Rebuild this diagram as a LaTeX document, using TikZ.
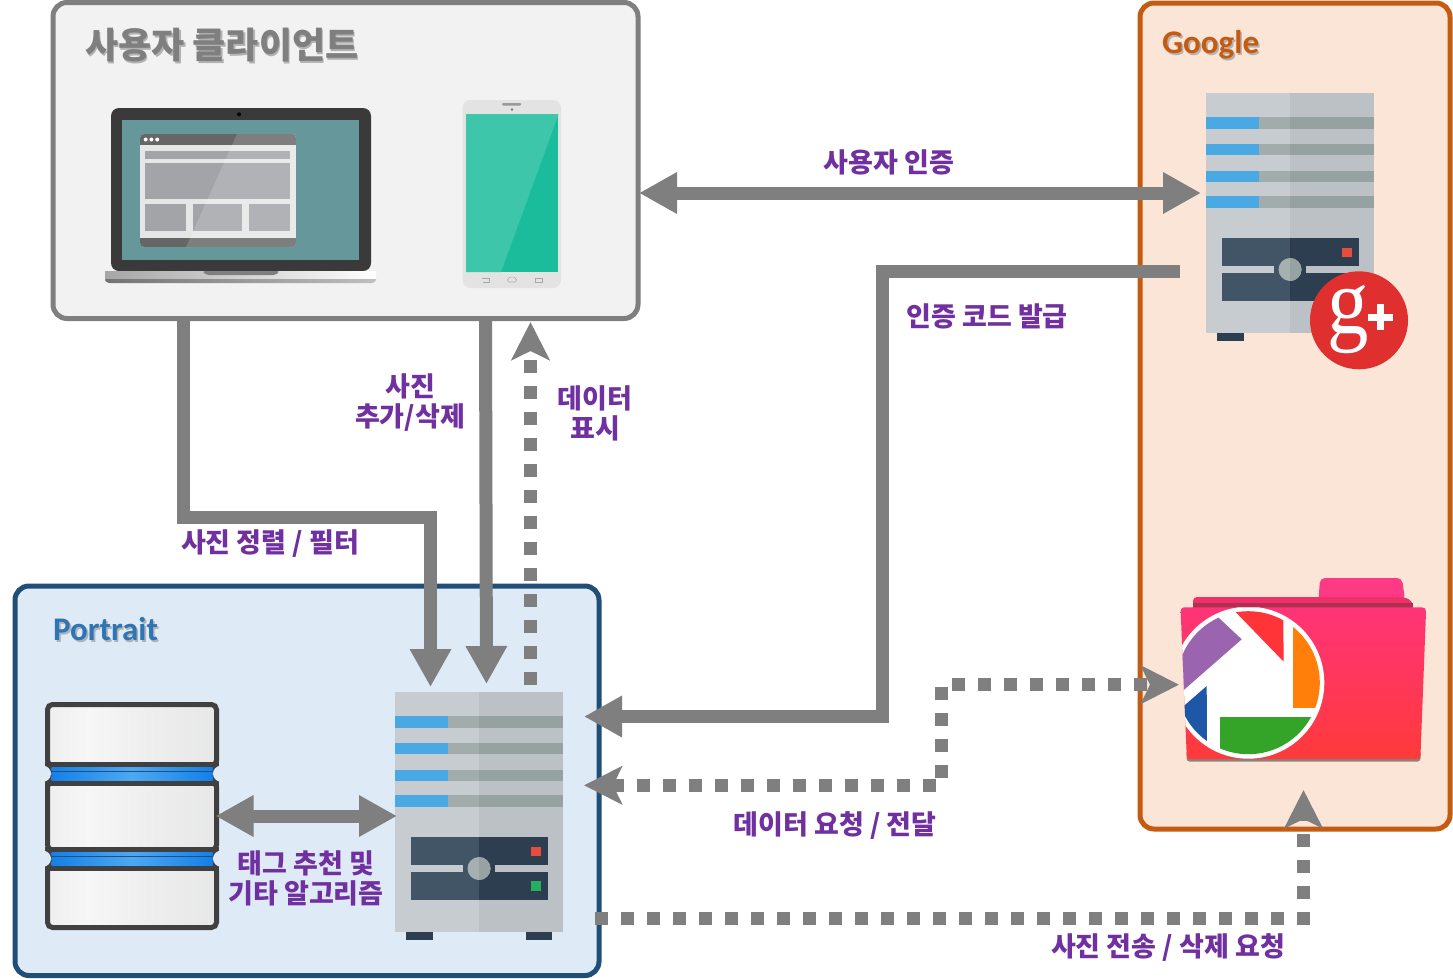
\documentclass[tikz,border=0pt]{standalone}
\usepackage{fontspec}
\usepackage{graphicx}
\usetikzlibrary{arrows.meta}
\newfontfamily\krfont{Noto Sans CJK KR}
\newfontfamily\enfont{Carlito}
\newfontfamily\gserif{Liberation Serif}
\definecolor{flow}{HTML}{7F7F7F}
\definecolor{lab}{HTML}{7030A0}
\definecolor{srvL}{HTML}{C7CCD0}
\definecolor{srvR}{HTML}{BCC1C5}
\definecolor{panL}{HTML}{425566}
\definecolor{panR}{HTML}{2C3E50}
\definecolor{dbA}{HTML}{DEDFDF}
\definecolor{dbB}{HTML}{F6F6F6}
\definecolor{dbC}{HTML}{EEEEEE}
\definecolor{bandA}{HTML}{1580E8}
\definecolor{bandB}{HTML}{4DA8F2}
\definecolor{portraitfill}{HTML}{DEEBF7}
\pgfdeclarehorizontalshading{dbgrad}{100bp}{color(0bp)=(dbA);color(37bp)=(dbB);color(55bp)=(dbC);color(100bp)=(dbA)}
\newcommand{\shadowed}[2]{\rlap{\kern1.6pt\raisebox{-1.6pt}{\color{#1}#2}}#2}
\tikzset{
  x=1pt,y=-1pt,
  group/.style={draw,line width=5pt,rounded corners=14pt,inner sep=0pt},
  anchorbox/.style={inner sep=0pt,outer sep=0pt},
  lbl/.style={text=lab,inner sep=0pt,align=center,font=\krfont\bfseries\fontsize{27}{30}\selectfont},
  solidflow/.style={draw=flow,line width=13pt},
  dotflow/.style={draw=flow,line width=13pt,dash pattern=on 13pt off 13pt},
  thead/.tip={Triangle[length=38pt,width=39pt]},
  shead/.tip={Stealth[length=38pt,width=38pt,inset=9pt]},
  serverpic/.pic={
    \fill[srvL] (0,0) rectangle (84,240);
    \fill[srvR] (84,0) rectangle (168,240);
    \foreach \a/\b in {23.5/35.5,50.5/62,77.5/89,103/115}{
      \fill[HTML=4AA8E2] (0,\a) rectangle (53,\b);
      \fill[HTML=A3ACAC] (53,\a) rectangle (84,\b);
      \fill[HTML=96A2A1] (84,\a) rectangle (168,\b);
    }
    \fill[panL] (15.7,145) rectangle (84,208);
    \fill[panR] (84,145) rectangle (152.7,208);
    \fill[srvL] (15.7,173) rectangle (68,180);
    \fill[srvR] (100,173) rectangle (152.7,180);
    \fill[HTML=A6B0B0] (84,176.5) circle (11.5);
    \begin{scope}
      \clip (84,160) rectangle (100,193);
      \fill[HTML=97A3A3] (84,176.5) circle (11.5);
    \end{scope}
    \fill[HTML=E74C3C] (136,154.5) rectangle (146,164);
    \fill[HTML=27AE60] (136,189) rectangle (146,198.5);
    \fill[panR] (11,240) rectangle (37.5,248);
    \fill[panR] (130.5,240) rectangle (157,248);
  },
  HTML/.code={\definecolor{tmpc}{HTML}{#1}\tikzset{color=tmpc}},
}
\begin{document}
\begin{tikzpicture}
\useasboundingbox (0,0) rectangle (1453,978);
\fill[white] (0,0) rectangle (1453,978);

% group boxes
\node[group,draw=flow,fill=black!5,minimum width=585pt,minimum height=316pt] (client) at (345.5,160.5) {};
\node[group,draw={rgb,255:red,197;green,90;blue,17},fill={rgb,255:red,251;green,229;blue,214},minimum width=310pt,minimum height=826pt] (google) at (1295,416) {};
\node[group,draw={rgb,255:red,31;green,78;blue,121},fill=portraitfill,minimum width=584pt,minimum height=389.5pt] (portrait) at (307,780.75) {};

% titles
\node[anchor=west,inner sep=0pt,text=flow,font=\krfont\bfseries\fontsize{36}{38}\selectfont] (tclient) at (85,46) {\shadowed{black!30}{사용자 클라이언트}};
\node[anchor=west,inner sep=0pt,text={rgb,255:red,197;green,90;blue,17},font=\enfont\bfseries\fontsize{33}{36}\selectfont] (tgoogle) at (1162,46) {\shadowed{black!30}{Google}};
\node[anchor=west,inner sep=0pt,text={rgb,255:red,46;green,117;blue,182},font=\enfont\bfseries\fontsize{33}{36}\selectfont] (tportrait) at (53,630) {\shadowed{black!30}{Portrait}};

% laptop
\fill[HTML=3A3A3A,rounded corners=8pt] (111,271) -- (111,108) -- (371,108) -- (371,271) -- cycle;
\fill[HTML=66979A] (122,120) rectangle (359,260);
\begin{scope}
  \clip[rounded corners=4pt] (140,134) rectangle (296,247);
  \fill[HTML=E5E7E7] (140,134) rectangle (296,247);
  \fill[HTML=666666] (140,134) rectangle (296,145);
  \fill[HTML=666666] (140,237.5) rectangle (296,247);
  \fill[HTML=A3A4A8] (145,151) rectangle (290,159);
  \fill[HTML=A3A4A8] (145,163) rectangle (290,199);
  \fill[HTML=A3A4A8] (145,204) rectangle (186,231);
  \fill[HTML=A3A4A8] (193,204) rectangle (242,231);
  \fill[HTML=A3A4A8] (249,204) rectangle (290,231);
  \fill[white,opacity=0.16] (237,134) -- (296,134) -- (296,247) -- (186,247) -- cycle;
\end{scope}
\fill[white] (145.7,139.5) circle (2) (151.4,139.5) circle (2) (157.2,139.5) circle (2);
\fill[black] (239,114.3) circle (2);
\shade[left color=black!55,right color=black!25,rounded corners=4pt] (105,277) -- (105,283) -- (376,283) -- (376,277) -- cycle;
\shade[left color=black!35,right color=white] (105,271) rectangle (376,278.5);
\fill[flow,rounded corners=3pt] (202,271) -- (206,275) -- (276,275) -- (280,271) -- cycle;

% phone
\fill[HTML=E3E3E3,rounded corners=8pt] (462.5,100) rectangle (561,288);
\fill[HTML=1ABC9C] (466,114) rectangle (558,272);
\fill[HTML=3DC6A9] (466,114) -- (558,114) -- (558,116) -- (501,272) -- (466,272) -- cycle;
\fill[HTML=999999,rounded corners=1pt] (502,103) rectangle (521,105.5);
\fill[HTML=777777] (512,109.5) circle (1.3);
\draw[HTML=A8A8A8,line width=0.6pt] (482,278) -- (489,278) -- (489,282) -- (483,282);
\draw[HTML=A8A8A8,line width=0.6pt,rounded corners=2pt] (507.5,282) -- (507.5,278) -- (512,276.5) -- (516.5,278) -- (516.5,282) -- cycle;
\draw[HTML=A8A8A8,line width=0.6pt] (535,278) rectangle (542,282);

% servers
\pic at (395,692) {serverpic};
\pic at (1206,93) {serverpic};
\node[anchorbox,minimum width=168pt,minimum height=240pt] (srvP) at (479,812) {};
\node[anchorbox,minimum width=168pt,minimum height=240pt] (srvG) at (1290,213) {};

% badge
\node[circle,fill={rgb,255:red,224;green,47;blue,47},minimum size=98pt,inner sep=0pt] (badge) at (1359,320.3) {};
\node[inner sep=0pt,text=white,font=\gserif\fontsize{94}{94}\selectfont] (gletter) at (1348,320) {\scalebox{0.88}[1]{g}};
\fill[white] (1368,314) rectangle (1392.7,320.7);
\fill[white] (1376.7,303.5) rectangle (1384,330);

% database
\node[anchorbox,minimum width=172pt,minimum height=227pt] (db) at (131,816) {};
\foreach \a/\b in {704.5/765.5,782/850,866/927.5}{
  \shade[shading=dbgrad] (47.5,\a) rectangle (216.5,\b);
  \draw[HTML=404040,line width=5pt,rounded corners=5pt] (47.5,\a) rectangle (216.5,\b);
}
\foreach \m/\p/\q/\r/\s/\t/\u in {773.7/767.2/770.6/772/775.4/776.8/780.2,858.7/852.2/855.6/857/860.4/861.8/865.2}{
  \fill[HTML=404040] (45,\m-12) rectangle (219,\m+12);
  \fill[portraitfill] (43,\m) circle (8) (221,\m) circle (8);
  \fill[HTML=22507F] (51.5,\m-7) rectangle (212.5,\m+7);
  \shade[left color=bandA,right color=bandA,middle color=bandB] (51.5,\p) rectangle (212.5,\q);
  \shade[left color=bandA,right color=bandA,middle color=bandB] (51.5,\r) rectangle (212.5,\s);
  \shade[left color=bandA,right color=bandA,middle color=bandB] (51.5,\t) rectangle (212.5,\u);
}

% folder
\def\folderfront{(1184,607.3) -- (1422,607.3) .. controls (1425,607.3) and (1426,609) .. (1426,612) -- (1420.5,755) .. controls (1420.3,758) and (1419,759) .. (1417,759) -- (1190,759) .. controls (1188,759) and (1187,758) .. (1186.7,755) -- (1180.7,612) .. controls (1180.7,609) and (1181.5,607.3) .. (1184,607.3) -- cycle}
\fill[HTML=FF3A85,rounded corners=5pt] (1318,608) -- (1320,578) -- (1402,578) -- (1405,600) -- cycle;
\fill[HTML=F0306A,rounded corners=4pt] (1193,610) -- (1193,597) -- (1318,597) -- (1405,597) -- (1413,602) -- (1413,610) -- cycle;
\fill[HTML=B03050] (1193,603) rectangle (1413,608);
\fill[black!70,opacity=0.65,rounded corners=3pt] (1186.5,750) rectangle (1420.5,761.5);
\shade[top color={rgb,255:red,255;green,52;blue,120},bottom color={rgb,255:red,255;green,58;blue,58}] \folderfront;
\begin{scope}
  \clip \folderfront;
  \fill[white] (1248.3,682.7) circle (76);
  \clip (1248.3,682.7) circle (71.5);
  \fill[HTML=FF3438] (1224,600) -- (1283,600) -- (1283.7,661.7) -- cycle;
  \fill[HTML=FF7F0A] (1293.3,615) rectangle (1330,707.7);
  \fill[HTML=34A428] (1220,716.7) rectangle (1330,770);
  \fill[HTML=1D57A6] (1206.7,686) -- (1170,718) -- (1170,730) -- (1207,767) -- cycle;
  \fill[HTML=9A64AE] (1215,614.3) -- (1241.7,639.3) -- (1170,702) -- (1170,630) -- cycle;
\end{scope}
\node[anchorbox,minimum width=245pt,minimum height=181pt] (folder) at (1303.5,668.5) {};

% connectors
\draw[solidflow,{thead}-{thead},shorten <=-1.5pt,shorten >=5pt] (client.east |- 0,193) -- (srvG.west |- 0,193);
\draw[solidflow,-{thead},shorten <=26pt,shorten >=21pt] (srvG.west |- 0,271) -- (882,271) -- (882,716.5) -- (srvP.east |- 0,716.5);
\draw[solidflow,-{thead},shorten >=5pt] (183.5,0 |- client.south) -- (183.5,517) -- (430.5,517) -- (430.5,0 |- srvP.north);
\draw[solidflow,-{thead},shorten >=8pt] (485.5,0 |- client.south) -- (486.5,0 |- srvP.north);
\draw[dotflow,-{shead},shorten <=7pt,shorten >=1pt] (530.5,0 |- srvP.north) -- (530.5,0 |- client.south);
\draw[solidflow,{thead}-{thead},shorten <=-1.5pt,shorten >=-2pt] (db.east |- 0,816) -- (srvP.west |- 0,816);
\draw[dotflow,{shead}-{shead},shorten <=21pt,shorten >=2pt] (srvP.east |- 0,785.3) -- (941.3,785.3) -- (941.3,684.7) -- (folder.west |- 0,684.7);
\draw[dotflow,-{shead},shorten <=-6.2pt,shorten >=-41.5pt] (portrait.east |- 0,918.5) -- (1303.5,918.5) -- (1303.5,0 |- google.south);

% labels
\node[lbl] (l1) at (889,162) {사용자 인증};
\node[lbl] (l2) at (987,316) {인증 코드 발급};
\node[lbl] (l3) at (410,403) {사진\\추가/삭제};
\node[lbl] (l4) at (595,413) {데이터\\표시};
\node[lbl] (l5) at (270,544) {사진 정렬 / 필터};
\node[lbl] (l6) at (835,826) {데이터 요청 / 전달};
\node[lbl] (l7) at (306,878) {태그 추천 및\\기타 알고리즘};
\node[lbl] (l8) at (1168,948) {사진 전송 / 삭제 요청};
\end{tikzpicture}
\end{document}
